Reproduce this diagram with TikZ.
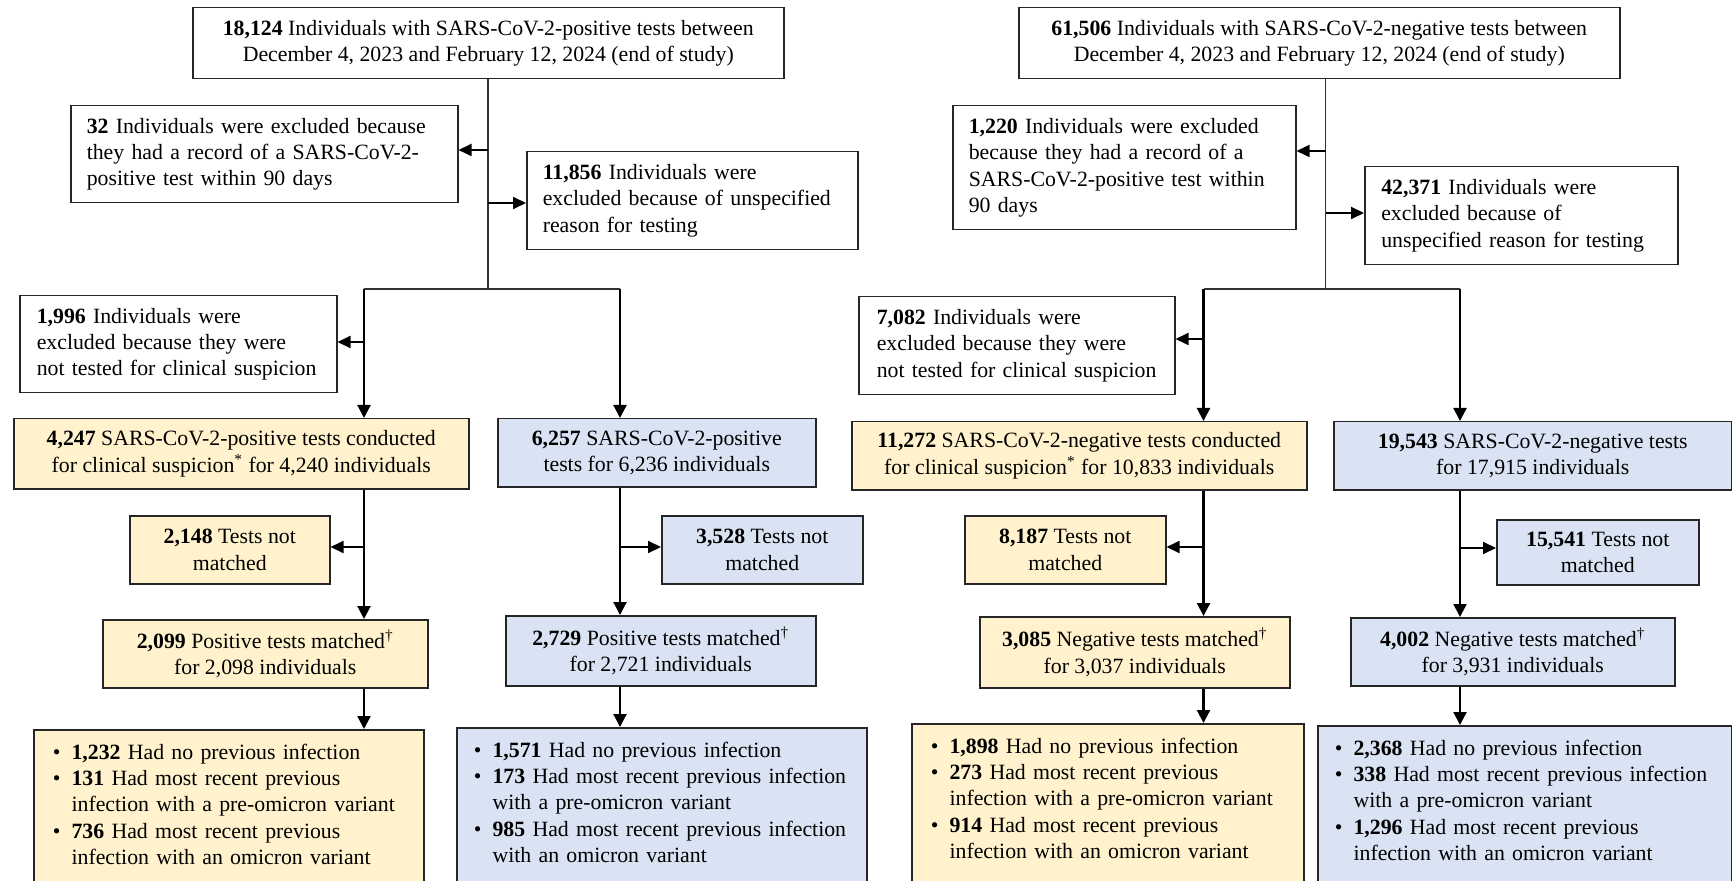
\documentclass[tikz,border=0pt]{standalone}
\usepackage{fontspec}
\setmainfont{Liberation Serif}
\usetikzlibrary{arrows.meta}

\definecolor{boxyellow}{HTML}{FFF2CC}
\definecolor{boxblue}{HTML}{DAE3F3}

\newcommand{\bul}{\makebox[9.4pt][l]{\textbullet}}
\newcommand{\ind}{\hspace*{9.4pt}}

\tikzset{
    box/.style={draw=black!85, line width=0.75pt, inner sep=0pt, align=center, anchor=north west,
        font=\fontsize{10.9}{13.2}\selectfont},
    lbox/.style={box, align=left},
    ybox/.style={box, fill=boxyellow},
    bbox/.style={box, fill=boxblue},
    sz/.style 2 args={minimum width=#1, minimum height=#2},
    res/.style={align=left, inner ysep=7pt, text depth=80pt},
    trunk/.style={draw=black!80, line width=0.55pt},
    down/.style={draw=black, line width=1.1pt, -{Triangle[length=6.5pt, width=6.5pt]}},
    side/.style={draw=black, line width=0.9pt, -{Triangle[length=6.5pt, width=6pt]}}
}

\begin{document}
\begin{tikzpicture}[x=0.5pt, y=-0.5pt]

    \useasboundingbox (0,0) rectangle (1732,881);
    \clip (0,0) rectangle (1732,881);

    \node[box, sz={295.5pt}{35.5pt}] (posTop) at (192,7)
        {\textbf{18,124} Individuals with SARS-CoV-2-positive tests between\\December 4, 2023 and February 12, 2024 (end of study)};
    \node[lbox, sz={193.5pt}{48.5pt}, text width=177.5pt] (posEx1) at (70,105)
        {\textbf{32} Individuals were excluded because\\they had a record of a SARS-CoV-2-\\positive test within 90 days};
    \node[lbox, sz={165.5pt}{49pt}, text width=149.5pt] (posEx2) at (526,151)
        {\textbf{11,856} Individuals were\\excluded because of unspecified\\reason for testing};
    \node[lbox, sz={158.5pt}{48.5pt}, text width=141.5pt] (posEx3) at (19,295)
        {\textbf{1,996} Individuals were\\excluded because they were\\not tested for clinical suspicion};

    \node[ybox, sz={227.5pt}{35pt}] (posClin) at (13,418)
        {\textbf{4,247} SARS-CoV-2-positive tests conducted\\for clinical suspicion\textsuperscript{*} for 4,240 individuals};
    \node[bbox, sz={159pt}{34pt}] (posAll) at (497,418)
        {\textbf{6,257} SARS-CoV-2-positive\\tests for 6,236 individuals};
    \node[ybox, sz={100pt}{34pt}] (posNm1) at (129,515) {\textbf{2,148} Tests not\\matched};
    \node[bbox, sz={100.5pt}{34pt}] (posNm2) at (661,515) {\textbf{3,528} Tests not\\matched};
    \node[ybox, sz={162.5pt}{34pt}] (posMt1) at (102,619)
        {\textbf{2,099} Positive tests matched\textsuperscript{\textdagger}\\for 2,098 individuals};
    \node[bbox, sz={155pt}{35pt}] (posMt2) at (505,615)
        {\textbf{2,729} Positive tests matched\textsuperscript{\textdagger}\\for 2,721 individuals};

    \node[ybox, res, minimum width=195pt, text width=176pt] (posRes1) at (33,729)
        {\bul\textbf{1,232} Had no previous infection\\
         \bul\textbf{131} Had most recent previous\\
         \ind infection with a pre-omicron variant\\
         \bul\textbf{736} Had most recent previous\\
         \ind infection with an omicron variant};
    \node[bbox, res, minimum width=205pt, text width=188pt] (posRes2) at (456,727)
        {\bul\textbf{1,571} Had no previous infection\\
         \bul\textbf{173} Had most recent previous infection\\
         \ind with a pre-omicron variant\\
         \bul\textbf{985} Had most recent previous infection\\
         \ind with an omicron variant};

    \node[box, sz={300.5pt}{35.5pt}] (negTop) at (1018,7)
        {\textbf{61,506} Individuals with SARS-CoV-2-negative tests between\\December 4, 2023 and February 12, 2024 (end of study)};
    \node[lbox, sz={171.5pt}{62pt}, text width=155.5pt] (negEx1) at (952,105)
        {\textbf{1,220} Individuals were excluded\\because they had a record of a\\SARS-CoV-2-positive test within\\90 days};
    \node[lbox, sz={156.5pt}{49pt}, text width=140pt] (negEx2) at (1364,166)
        {\textbf{42,371} Individuals were\\excluded because of\\unspecified reason for testing};
    \node[lbox, sz={158pt}{49pt}, text width=140pt] (negEx3) at (858,296)
        {\textbf{7,082} Individuals were\\excluded because they were\\not tested for clinical suspicion};

    \node[ybox, sz={227.5pt}{34pt}] (negClin) at (851,421)
        {\textbf{11,272} SARS-CoV-2-negative tests conducted\\for clinical suspicion\textsuperscript{*} for 10,833 individuals};
    \node[bbox, sz={199pt}{34pt}] (negAll) at (1333,421)
        {\textbf{19,543} SARS-CoV-2-negative tests\\for 17,915 individuals};
    \node[ybox, sz={100.5pt}{34pt}] (negNm1) at (964,515) {\textbf{8,187} Tests not\\matched};
    \node[bbox, sz={101pt}{32.5pt}] (negNm2) at (1496,519) {\textbf{15,541} Tests not\\matched};
    \node[ybox, sz={155pt}{35.5pt}] (negMt1) at (979,616)
        {\textbf{3,085} Negative tests matched\textsuperscript{\textdagger}\\for 3,037 individuals};
    \node[bbox, sz={162pt}{34pt}] (negMt2) at (1350,617)
        {\textbf{4,002} Negative tests matched\textsuperscript{\textdagger}\\for 3,931 individuals};

    \node[ybox, res, minimum width=196pt, text width=177pt] (negRes1) at (911,723)
        {\bul\textbf{1,898} Had no previous infection\\
         \bul\textbf{273} Had most recent previous\\
         \ind infection with a pre-omicron variant\\
         \bul\textbf{914} Had most recent previous\\
         \ind infection with an omicron variant};
    \node[bbox, res, minimum width=207pt, text width=190pt] (negRes2) at (1317,725)
        {\bul\textbf{2,368} Had no previous infection\\
         \bul\textbf{338} Had most recent previous infection\\
         \ind with a pre-omicron variant\\
         \bul\textbf{1,296} Had most recent previous\\
         \ind infection with an omicron variant};

    \coordinate (posFork) at (488,289);
    \coordinate (posL) at (364,289);
    \coordinate (posR) at (620,289);
    \coordinate (posJa) at (488,150);
    \coordinate (posJb) at (488,203);
    \coordinate (posJc) at (364,342);
    \coordinate (posJd) at (364,547);
    \coordinate (posJe) at (620,547);

    \coordinate (negFork) at (1325.5,289);
    \coordinate (negL) at (1203.5,289);
    \coordinate (negR) at (1460,289);
    \coordinate (negJa) at (1325.5,151);
    \coordinate (negJb) at (1325.5,213);
    \coordinate (negJc) at (1203.5,339);
    \coordinate (negJd) at (1203.5,547);
    \coordinate (negJe) at (1460,548);

    \draw[trunk] (posFork |- posTop.south) -- (posFork);
    \draw[trunk] (posL) -- (posR);
    \draw[trunk] (negFork |- negTop.south) -- (negFork);
    \draw[trunk] (negL) -- (negR);

    \draw[side] (posJa) -- (posJa -| posEx1.east);
    \draw[side] (posJb) -- (posJb -| posEx2.west);
    \draw[side] (posJc) -- (posJc -| posEx3.east);
    \draw[side] (posJd) -- (posJd -| posNm1.east);
    \draw[side] (posJe) -- (posJe -| posNm2.west);
    \draw[side] (negJa) -- (negJa -| negEx1.east);
    \draw[side] (negJb) -- (negJb -| negEx2.west);
    \draw[side] (negJc) -- (negJc -| negEx3.east);
    \draw[side] (negJd) -- (negJd -| negNm1.east);
    \draw[side] (negJe) -- (negJe -| negNm2.west);

    \draw[down] (posL) -- (posL |- posClin.north);
    \draw[down] (posR) -- (posR |- posAll.north);
    \draw[down] (posL |- posClin.south) -- (posL |- posMt1.north);
    \draw[down] (posR |- posAll.south) -- (posR |- posMt2.north);
    \draw[down] (posL |- posMt1.south) -- (posL |- posRes1.north);
    \draw[down] (posR |- posMt2.south) -- (posR |- posRes2.north);
    \draw[down] (negL) -- (negL |- negClin.north);
    \draw[down] (negR) -- (negR |- negAll.north);
    \draw[down] (negL |- negClin.south) -- (negL |- negMt1.north);
    \draw[down] (negR |- negAll.south) -- (negR |- negMt2.north);
    \draw[down] (negL |- negMt1.south) -- (negL |- negRes1.north);
    \draw[down] (negR |- negMt2.south) -- (negR |- negRes2.north);

\end{tikzpicture}
\end{document}
